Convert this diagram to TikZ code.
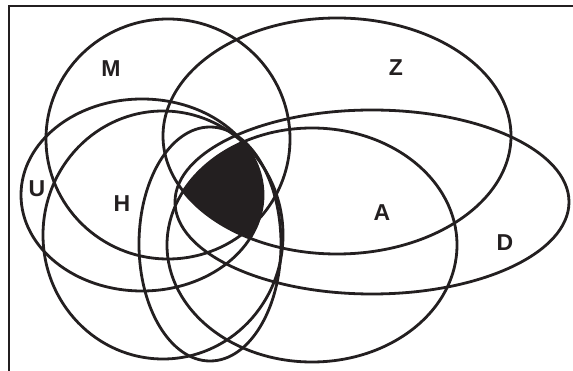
\documentclass[tikz,border=0pt]{standalone}
\usepackage{fontspec}
\setmainfont{Liberation Sans}
\definecolor{ink}{HTML}{231F20}
\begin{document}
\begin{tikzpicture}[x=1pt,y=-1pt,
  setline/.style={draw=ink,line width=2.8pt},
  framel/.style={draw=ink,line width=2.3pt},
  lab/.style={text=ink,font=\fontsize{23}{23}\selectfont\bfseries,inner sep=0pt}]
\useasboundingbox (0,0) rectangle (573,371);
% frame
\draw[framel] (9,371) -- (9,6) -- (573,6);
% shaded intersection
\begin{scope}
  \clip (312,245) ellipse [x radius=145pt, y radius=117pt];
  \clip (337,136) ellipse [x radius=174pt, y radius=118pt];
  \clip (142,195) ellipse [x radius=121pt, y radius=96pt];
  \fill[ink] (0,0) rectangle (573,371);
\end{scope}
% sets
\draw[setline] (168,139) ellipse [x radius=122pt, y radius=120pt]; % M
\draw[setline] (337,136) ellipse [x radius=174pt, y radius=118pt]; % Z
\draw[setline] (142,195) ellipse [x radius=121pt, y radius=96pt];  % U
\draw[setline] (163,235) ellipse [x radius=120pt, y radius=124pt]; % H
\draw[setline] (210,244) ellipse [x radius=71pt, y radius=117pt];  % narrow
\draw[setline] (312,245) ellipse [x radius=145pt, y radius=117pt]; % A
\draw[setline] (372,202) ellipse [x radius=197pt, y radius=92pt];  % D
% labels
\node[lab] (m) at (111,69) {M};
\node[lab] (z) at (396,68) {Z};
\node[lab] (u) at (37,189) {U};
\node[lab] (h) at (122,204) {H};
\node[lab] (a) at (382,213) {A};
\node[lab] (d) at (505,243) {D};
\end{tikzpicture}
\end{document}
